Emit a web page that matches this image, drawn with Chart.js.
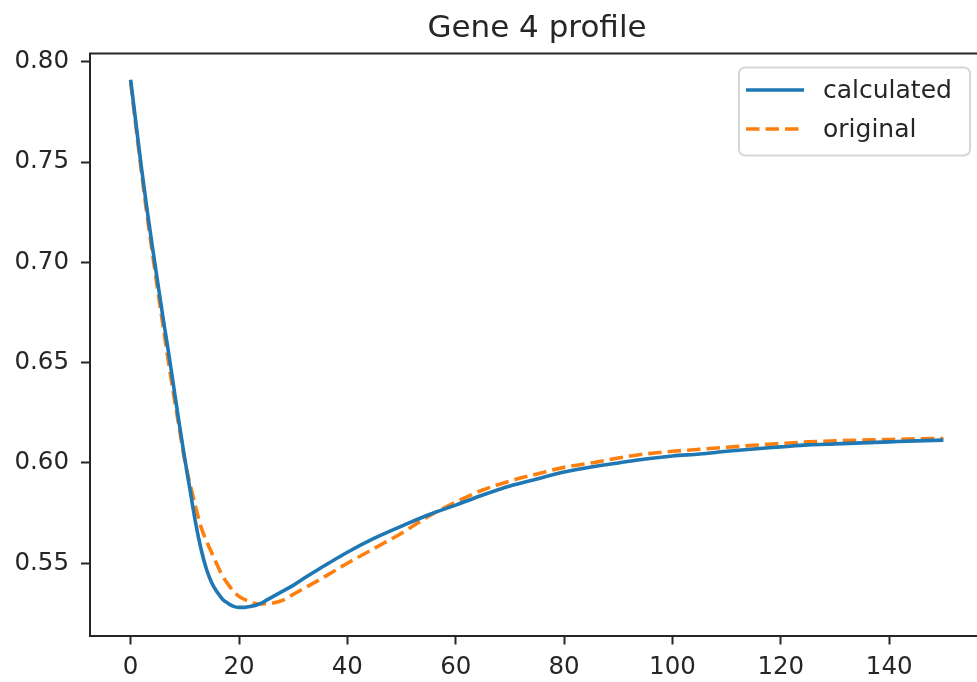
<!DOCTYPE html>
<html>
<head>
<meta charset="utf-8">
<title>Gene 4 profile</title>
<script src="https://cdn.jsdelivr.net/npm/chart.js@4/dist/chart.umd.min.js"></script>
<style>
  html, body { margin: 0; padding: 0; background: #fff; overflow: hidden; }
  #wrap { width: 1000px; height: 682px; }
</style>
</head>
<body>
<div id="wrap"><canvas id="geneChart" width="1000" height="682"></canvas></div>
<script>
// time points shared by both series
const timePoints = [0, 1, 2, 3, 4, 5, 6, 7, 8, 9, 10, 11, 12, 13, 14, 15, 16, 17, 18, 19, 20,
  21, 22, 23, 24, 25, 26, 28, 30, 32, 35, 40, 45, 50, 55, 60, 65, 70, 75, 80, 85, 90, 95,
  100, 105, 110, 115, 120, 125, 130, 135, 140, 145, 150];

const calculated = [0.791, 0.769, 0.747, 0.727, 0.708, 0.690, 0.672, 0.655, 0.637, 0.619, 0.602,
  0.586, 0.570, 0.557, 0.547, 0.540, 0.5355, 0.532, 0.530, 0.5285, 0.528,
  0.528, 0.5285, 0.529, 0.530, 0.5315, 0.533, 0.536, 0.539, 0.5425, 0.5475, 0.5555, 0.5625, 0.5685,
  0.5742, 0.579, 0.584, 0.5885, 0.592, 0.5955, 0.598, 0.600, 0.602,
  0.6035, 0.6045, 0.6058, 0.607, 0.608, 0.609, 0.6095, 0.610, 0.6105, 0.611, 0.6114];

const original = [0.790, 0.767, 0.745, 0.724, 0.705, 0.686, 0.668, 0.650, 0.633, 0.617, 0.601,
  0.589, 0.578, 0.568, 0.561, 0.555, 0.549, 0.5435, 0.5395, 0.536, 0.5335,
  0.532, 0.531, 0.530, 0.5297, 0.5298, 0.530, 0.5315, 0.5345, 0.5375, 0.542, 0.550, 0.5575, 0.565,
  0.5735, 0.5805, 0.5865, 0.591, 0.5945, 0.5978, 0.600, 0.6025, 0.6045,
  0.6058, 0.6068, 0.6078, 0.6088, 0.6097, 0.6105, 0.611, 0.6114, 0.6117, 0.612, 0.6122];

const seriesNames = ["calculated", "original"];
const xTicks = [0, 20, 40, 60, 80, 100, 120, 140];
const yTicks = [0.55, 0.60, 0.65, 0.70, 0.75, 0.80];

const FONT = "'DejaVu Sans', sans-serif";
const INK = "#262626";

function toPoints(ys) {
  return timePoints.map((t, i) => ({ x: t, y: ys[i] }));
}

// top spine (right one falls outside the picture)
const topSpine = {
  id: "topSpine",
  afterDraw(chart) {
    const { ctx, chartArea } = chart;
    ctx.save();
    ctx.strokeStyle = INK;
    ctx.lineWidth = 2;
    ctx.beginPath();
    ctx.moveTo(chartArea.left - 1, chartArea.top);
    ctx.lineTo(chartArea.right, chartArea.top);
    ctx.stroke();
    ctx.restore();
  },
};

// matplotlib-like legend box in the upper right
const boxLegend = {
  id: "boxLegend",
  afterDraw(chart) {
    const ctx = chart.ctx;
    const x0 = 739, y0 = 67.5, w = 231, h = 88, r = 6;
    ctx.save();
    ctx.beginPath();
    ctx.roundRect(x0, y0, w, h, r);
    ctx.fillStyle = "rgba(255,255,255,0.8)";
    ctx.fill();
    ctx.strokeStyle = "#d6d6d6";
    ctx.lineWidth = 2;
    ctx.stroke();

    chart.data.datasets.forEach((ds, i) => {
      const y = 90 + i * 39;
      ctx.beginPath();
      ctx.setLineDash(ds.borderDash || []);
      ctx.strokeStyle = ds.borderColor;
      ctx.lineWidth = ds.borderWidth;
      ctx.moveTo(746, y);
      ctx.lineTo(804, y);
      ctx.stroke();
      ctx.setLineDash([]);
      ctx.fillStyle = INK;
      ctx.font = "25px " + FONT;
      ctx.textBaseline = "middle";
      ctx.textAlign = "left";
      ctx.fillText(ds.label, 823, y + 1);
    });
    ctx.restore();
  },
};

new Chart(document.getElementById("geneChart"), {
  type: "line",
  data: {
    datasets: [
      {
        label: seriesNames[0],
        data: toPoints(calculated),
        borderColor: "#1f77b4",
        borderWidth: 3.6,
        pointRadius: 0,
        cubicInterpolationMode: "monotone",
        fill: false,
      },
      {
        label: seriesNames[1],
        data: toPoints(original),
        borderColor: "#ff7f0e",
        borderWidth: 3.6,
        borderDash: [13.5, 6],
        pointRadius: 0,
        cubicInterpolationMode: "monotone",
        fill: false,
      },
    ],
  },
  options: {
    responsive: false,
    animation: false,
    events: [],
    layout: { padding: { left: 0, right: 16, top: 0, bottom: 0 } },
    plugins: {
      legend: { display: false },
      tooltip: { enabled: false },
      title: {
        display: true,
        text: "Gene 4 profile",
        fullSize: false,
        color: INK,
        font: { family: FONT, size: 31, weight: "normal" },
        padding: { top: 10, bottom: 6.3 },
      },
    },
    scales: {
      x: {
        type: "linear",
        min: -7.5,
        max: 157.5,
        afterFit(s) { s.height = 46.5; },
        afterBuildTicks(s) { s.ticks = xTicks.map((v) => ({ value: v })); },
        grid: { drawOnChartArea: false, tickLength: 9, tickColor: INK, tickWidth: 2 },
        border: { display: true, color: INK, width: 2 },
        ticks: {
          color: INK,
          padding: 8,
          maxRotation: 0,
          font: { family: FONT, size: 24.5 },
          callback: (v) => String(v),
        },
      },
      y: {
        type: "linear",
        min: 0.514,
        max: 0.8041,
        afterFit(s) { s.width = 90; },
        afterBuildTicks(s) { s.ticks = yTicks.map((v) => ({ value: v })); },
        grid: { drawOnChartArea: false, tickLength: 9, tickColor: INK, tickWidth: 2 },
        border: { display: true, color: INK, width: 2 },
        ticks: {
          color: INK,
          padding: 12,
          font: { family: FONT, size: 24.5 },
          callback: (v) => Number(v).toFixed(2),
        },
      },
    },
  },
  plugins: [topSpine, boxLegend],
});
</script>
</body>
</html>
